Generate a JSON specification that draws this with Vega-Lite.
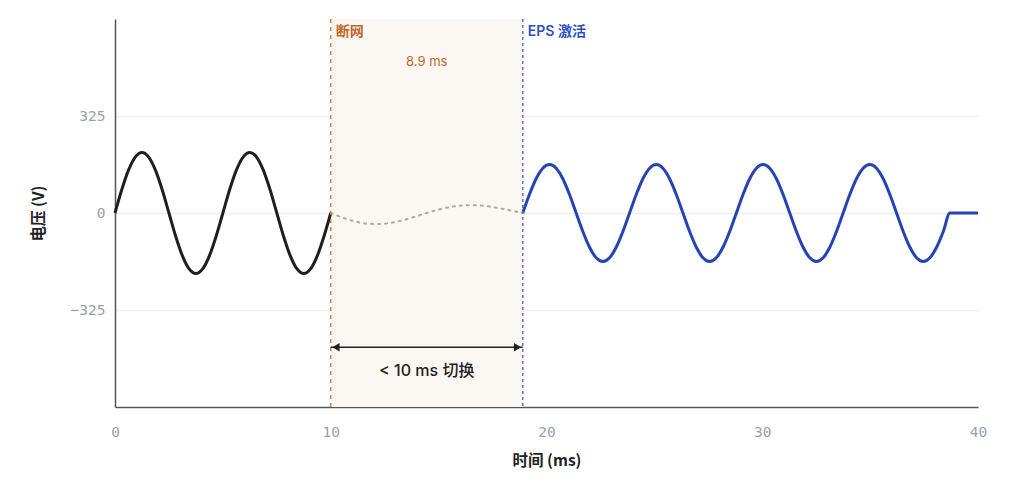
{
  "$schema": "https://vega.github.io/schema/vega-lite/v6.json",
  "width": 863,
  "height": 388,
  "autosize": {"type": "none"},
  "padding": {"left": 115, "top": 19, "right": 34, "bottom": 78},
  "background": "white",
  "config": {
    "view": {"stroke": null},
    "font": "Inter, Noto Sans CJK SC, sans-serif"
  },
  "resolve": {"scale": {"color": "independent", "size": "independent", "shape": "independent"}},
  "datasets": {
    "band": [
      {"t": 10, "t2": 18.9}
    ],
    "black": [
      {"t": 0, "v": 0}, {"t": 0.3125, "v": 77.7}, {"t": 0.625, "v": 143.5}, {"t": 0.9375, "v": 187.5},
      {"t": 1.25, "v": 203}, {"t": 1.5625, "v": 187.5}, {"t": 1.875, "v": 143.5}, {"t": 2.1875, "v": 77.7},
      {"t": 2.5, "v": 0}, {"t": 2.8125, "v": -77.7}, {"t": 3.125, "v": -143.5}, {"t": 3.4375, "v": -187.5},
      {"t": 3.75, "v": -203}, {"t": 4.0625, "v": -187.5}, {"t": 4.375, "v": -143.5}, {"t": 4.6875, "v": -77.7},
      {"t": 5, "v": 0}, {"t": 5.3125, "v": 77.7}, {"t": 5.625, "v": 143.5}, {"t": 5.9375, "v": 187.5},
      {"t": 6.25, "v": 203}, {"t": 6.5625, "v": 187.5}, {"t": 6.875, "v": 143.5}, {"t": 7.1875, "v": 77.7},
      {"t": 7.5, "v": 0}, {"t": 7.8125, "v": -77.7}, {"t": 8.125, "v": -143.5}, {"t": 8.4375, "v": -187.5},
      {"t": 8.75, "v": -203}, {"t": 9.0625, "v": -187.5}, {"t": 9.375, "v": -143.5}, {"t": 9.6875, "v": -77.7},
      {"t": 10, "v": 0}
    ],
    "gray": [
      {"t": 10, "v": 0}, {"t": 10.556, "v": -15.7}, {"t": 11.1125, "v": -28.1}, {"t": 11.669, "v": -35.5},
      {"t": 12.225, "v": -37}, {"t": 12.781, "v": -32.9}, {"t": 13.3375, "v": -24.2}, {"t": 13.894, "v": -12.6},
      {"t": 14.45, "v": 0}, {"t": 15.006, "v": 11.5}, {"t": 15.5625, "v": 20.3}, {"t": 16.119, "v": 25.3},
      {"t": 16.675, "v": 26}, {"t": 17.231, "v": 22.8}, {"t": 17.7875, "v": 16.4}, {"t": 18.344, "v": 8.4},
      {"t": 18.9, "v": 0}
    ],
    "blue": [
      {"t": 18.9, "v": 0}, {"t": 19.209, "v": 62.2}, {"t": 19.519, "v": 114.9}, {"t": 19.828, "v": 150.1},
      {"t": 20.1375, "v": 162.5}, {"t": 20.447, "v": 150.1}, {"t": 20.756, "v": 114.9}, {"t": 21.066, "v": 62.2},
      {"t": 21.375, "v": 0}, {"t": 21.684, "v": -62.2}, {"t": 21.994, "v": -114.9}, {"t": 22.303, "v": -150.1},
      {"t": 22.6125, "v": -162.5}, {"t": 22.922, "v": -150.1}, {"t": 23.231, "v": -114.9}, {"t": 23.541, "v": -62.2},
      {"t": 23.85, "v": 0}, {"t": 24.159, "v": 62.2}, {"t": 24.469, "v": 114.9}, {"t": 24.778, "v": 150.1},
      {"t": 25.0875, "v": 162.5}, {"t": 25.397, "v": 150.1}, {"t": 25.706, "v": 114.9}, {"t": 26.016, "v": 62.2},
      {"t": 26.325, "v": 0}, {"t": 26.634, "v": -62.2}, {"t": 26.944, "v": -114.9}, {"t": 27.253, "v": -150.1},
      {"t": 27.5625, "v": -162.5}, {"t": 27.872, "v": -150.1}, {"t": 28.181, "v": -114.9}, {"t": 28.491, "v": -62.2},
      {"t": 28.8, "v": 0}, {"t": 29.109, "v": 62.2}, {"t": 29.419, "v": 114.9}, {"t": 29.728, "v": 150.1},
      {"t": 30.0375, "v": 162.5}, {"t": 30.347, "v": 150.1}, {"t": 30.656, "v": 114.9}, {"t": 30.966, "v": 62.2},
      {"t": 31.275, "v": 0}, {"t": 31.584, "v": -62.2}, {"t": 31.894, "v": -114.9}, {"t": 32.203, "v": -150.1},
      {"t": 32.5125, "v": -162.5}, {"t": 32.822, "v": -150.1}, {"t": 33.131, "v": -114.9}, {"t": 33.441, "v": -62.2},
      {"t": 33.75, "v": 0}, {"t": 34.059, "v": 62.2}, {"t": 34.369, "v": 114.9}, {"t": 34.678, "v": 150.1},
      {"t": 34.9875, "v": 162.5}, {"t": 35.297, "v": 150.1}, {"t": 35.606, "v": 114.9}, {"t": 35.916, "v": 62.2},
      {"t": 36.225, "v": 0}, {"t": 36.534, "v": -62.2}, {"t": 36.844, "v": -114.9}, {"t": 37.153, "v": -150.1},
      {"t": 37.4625, "v": -162.5}, {"t": 37.772, "v": -150.1}, {"t": 38.081, "v": -114.9}, {"t": 38.391, "v": -62.2},
      {"t": 38.7, "v": 0}, {"t": 40, "v": 0}
    ],
    "cut": [
      {"t": 10, "v": 607, "label": "断网"}
    ],
    "eps": [
      {"t": 18.9, "v": 607, "label": "EPS 激活"}
    ],
    "arrow": [
      {"t": 10, "t2": 18.9, "v": -450}
    ],
    "heads": [
      {"t": 10.24, "v": -450, "dir": "left"},
      {"t": 18.66, "v": -450, "dir": "right"}
    ],
    "dur": [
      {"t": 14.45, "v": 506, "label": "8.9 ms"}
    ],
    "sw": [
      {"t": 14.45, "v": -530, "label": "< 10 ms 切换"}
    ]
  },
  "layer": [
    {
      "data": {"name": "band"},
      "mark": {"type": "rect", "color": "#fbf7f3"},
      "encoding": {
        "x": {
          "field": "t", "type": "quantitative",
          "scale": {"domain": [0, 40], "nice": false, "zero": false},
          "axis": {
            "values": [0, 10, 20, 30, 40],
            "title": "时间 (ms)",
            "grid": false,
            "ticks": false,
            "labelFlush": false,
            "domainColor": "#555555",
            "domainWidth": 1.5,
            "labelFont": "DejaVu Sans Mono",
            "labelFontSize": 14.5,
            "labelColor": "#9aa0ac",
            "labelPadding": 18,
            "titleFont": "Noto Sans CJK SC",
            "titleFontSize": 15.5,
            "titleFontWeight": 600,
            "titleColor": "#222222",
            "titlePadding": 15
          }
        },
        "x2": {"field": "t2"}
      }
    },
    {
      "data": {"name": "black"},
      "mark": {"type": "line", "color": "#1f1f1f", "strokeWidth": 3, "interpolate": "monotone"},
      "encoding": {
        "x": {"field": "t", "type": "quantitative"},
        "y": {
          "field": "v", "type": "quantitative",
          "scale": {"domain": [-650, 650], "nice": false},
          "axis": {
            "values": [-325, 0, 325],
            "title": "电压 (V)",
            "grid": true,
            "gridColor": "#eeeeee",
            "gridWidth": 1.5,
            "ticks": false,
            "domainColor": "#555555",
            "domainWidth": 1.5,
            "labelFont": "DejaVu Sans Mono",
            "labelFontSize": 14.5,
            "labelColor": "#9aa0ac",
            "labelPadding": 10,
            "titleFont": "Noto Sans CJK SC",
            "titleFontSize": 15.5,
            "titleFontWeight": 600,
            "titleColor": "#222222",
            "titlePadding": 24
          }
        }
      }
    },
    {
      "data": {"name": "gray"},
      "mark": {"type": "line", "color": "#a9a9a9", "strokeWidth": 2, "strokeDash": [2, 5], "strokeCap": "round", "interpolate": "monotone"},
      "encoding": {
        "x": {"field": "t", "type": "quantitative"},
        "y": {"field": "v", "type": "quantitative"}
      }
    },
    {
      "data": {"name": "blue"},
      "mark": {"type": "line", "color": "#2543b5", "strokeWidth": 3, "interpolate": "monotone"},
      "encoding": {
        "x": {"field": "t", "type": "quantitative"},
        "y": {"field": "v", "type": "quantitative"}
      }
    },
    {
      "data": {"name": "cut"},
      "mark": {"type": "rule", "strokeWidth": 1.5, "strokeDash": [4, 4], "color": "#d4803f"},
      "encoding": {
        "x": {"field": "t", "type": "quantitative"}
      }
    },
    {
      "data": {"name": "eps"},
      "mark": {"type": "rule", "strokeWidth": 1.5, "strokeDash": [3, 3], "color": "#5b6fd0"},
      "encoding": {
        "x": {"field": "t", "type": "quantitative"}
      }
    },
    {
      "data": {"name": "cut"},
      "mark": {"type": "text", "align": "left", "baseline": "middle", "dx": 5, "fontSize": 14, "fontWeight": 600, "color": "#c0682a", "font": "Inter, Noto Sans CJK SC"},
      "encoding": {
        "x": {"field": "t", "type": "quantitative"},
        "y": {"field": "v", "type": "quantitative"},
        "text": {"field": "label"}
      }
    },
    {
      "data": {"name": "eps"},
      "mark": {"type": "text", "align": "left", "baseline": "middle", "dx": 5, "fontSize": 14, "fontWeight": 600, "color": "#2f4fc2", "font": "Inter, Noto Sans CJK SC"},
      "encoding": {
        "x": {"field": "t", "type": "quantitative"},
        "y": {"field": "v", "type": "quantitative"},
        "text": {"field": "label"}
      }
    },
    {
      "data": {"name": "arrow"},
      "mark": {"type": "rule", "color": "#222222", "strokeWidth": 1.5},
      "encoding": {
        "x": {"field": "t", "type": "quantitative"},
        "x2": {"field": "t2"},
        "y": {"field": "v", "type": "quantitative"}
      }
    },
    {
      "data": {"name": "heads"},
      "mark": {"type": "point", "filled": true, "color": "#222222", "size": 70, "opacity": 1},
      "encoding": {
        "x": {"field": "t", "type": "quantitative"},
        "y": {"field": "v", "type": "quantitative"},
        "shape": {
          "field": "dir", "type": "nominal",
          "scale": {"domain": ["left", "right"], "range": ["triangle-left", "triangle-right"]},
          "legend": null
        }
      }
    },
    {
      "data": {"name": "dur"},
      "mark": {"type": "text", "align": "center", "baseline": "middle", "fontSize": 13, "color": "#c0682a", "font": "Inter, Noto Sans CJK SC"},
      "encoding": {
        "x": {"field": "t", "type": "quantitative"},
        "y": {"field": "v", "type": "quantitative"},
        "text": {"field": "label"}
      }
    },
    {
      "data": {"name": "sw"},
      "mark": {"type": "text", "align": "center", "baseline": "middle", "fontSize": 16, "fontWeight": 500, "color": "#222222", "font": "Inter, Noto Sans CJK SC"},
      "encoding": {
        "x": {"field": "t", "type": "quantitative"},
        "y": {"field": "v", "type": "quantitative"},
        "text": {"field": "label"}
      }
    }
  ]
}
